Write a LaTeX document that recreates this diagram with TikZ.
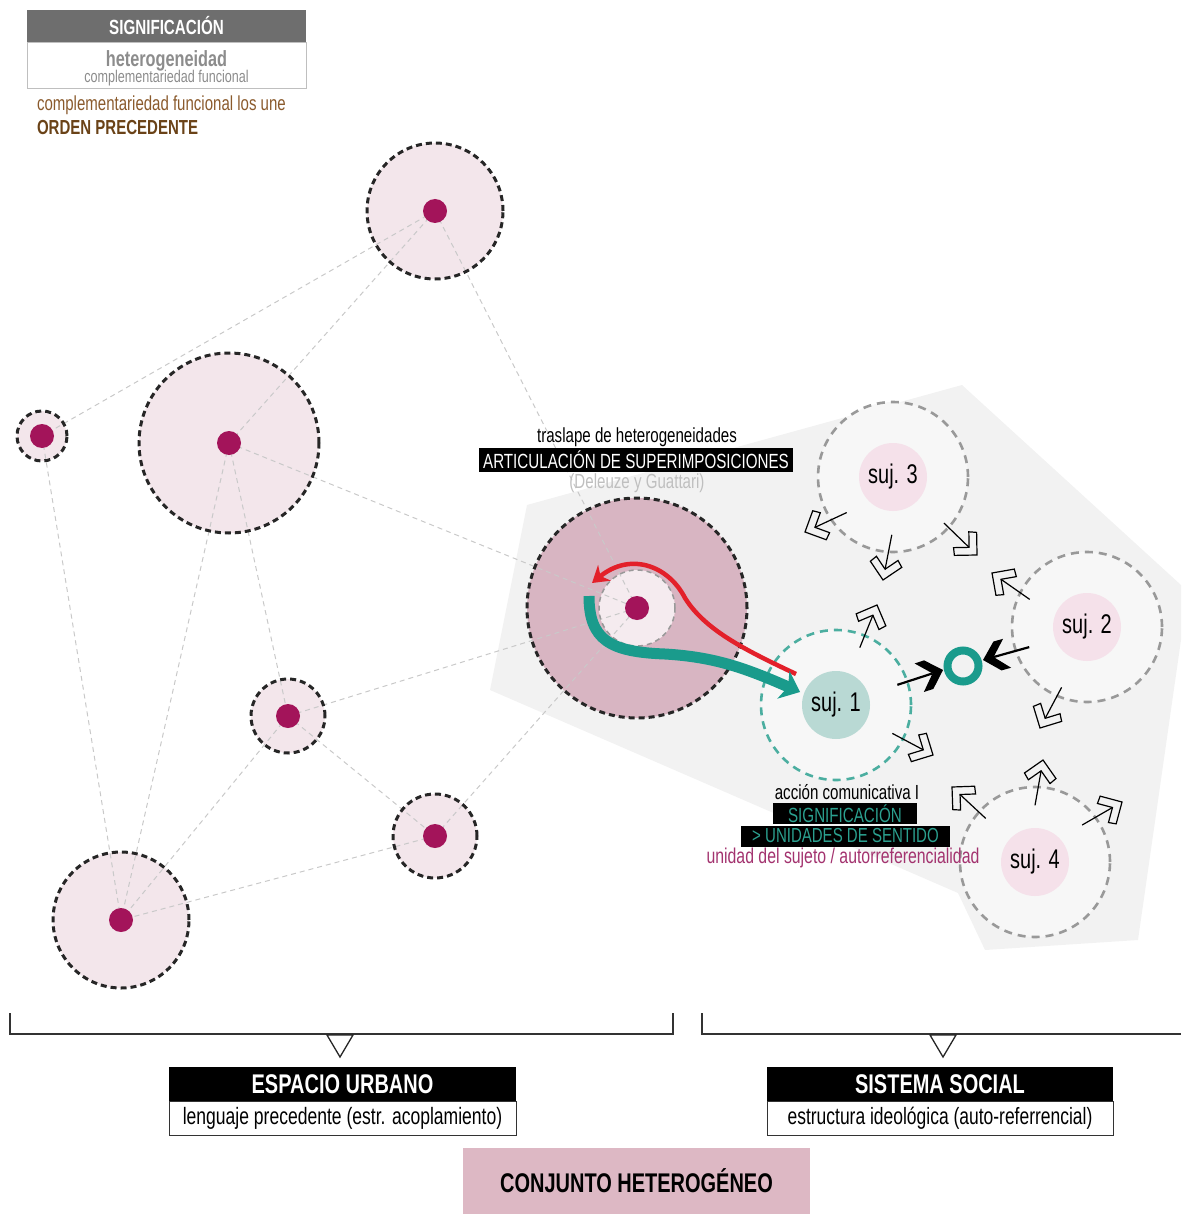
\documentclass[tikz,border=0pt]{standalone}
\usepackage{fontspec}
\setmainfont{Liberation Sans}[FakeStretch=0.74]
\usetikzlibrary{arrows.meta}
\definecolor{hdgray}{HTML}{6E6E6E}
\definecolor{lgray}{HTML}{8C8C8C}
\definecolor{brownA}{HTML}{8A5A2C}
\definecolor{brownB}{HTML}{6A4217}
\definecolor{lpink}{HTML}{F3E6EB}
\definecolor{dpink}{HTML}{D8B5C2}
\definecolor{dotc}{HTML}{A3145A}
\definecolor{edgec}{HTML}{C9C9C9}
\definecolor{polyc}{HTML}{F2F2F2}
\definecolor{tealc}{HTML}{1A9B8C}
\definecolor{tealtx}{HTML}{2BA08F}
\definecolor{teall}{HTML}{B9D9D4}
\definecolor{redc}{HTML}{E3202A}
\definecolor{sujpink}{HTML}{F5E1EA}
\definecolor{magtx}{HTML}{A3336F}
\definecolor{conj}{HTML}{DDB8C4}
\newcommand\myfs[1]{\fontsize{#1}{#1}\selectfont}
\begin{document}
\begin{tikzpicture}[x=1pt,y=-1pt,
  every node/.style={inner sep=0pt,outer sep=0pt},
  dot/.style={circle,fill=dotc,minimum width=24pt},
  ring/.style={draw=black!85,line width=3pt,dash pattern=on 6pt off 4pt},
  edge/.style={draw=edgec,line width=1pt,dash pattern=on 5pt off 4pt},
  sujring/.style={draw=black!40,line width=2.6pt,dash pattern=on 8pt off 6pt,fill=white!97!black},
  sujin/.style={circle,fill=sujpink,minimum width=68pt,font=\myfs{27}},
  lbl/.style={font=\myfs{20.4}},
  blackbox/.style={fill=black,text=white,inner xsep=4pt,inner ysep=3pt,font=\myfs{20.5}},
  chev/.pic={\draw[line width=1.2pt,line join=miter] (-46,0) -- (-11,0);
             \draw[line width=1.2pt,line join=miter] (0,0) -- (-16,16) -- (-22,11) -- (-11,0) -- (-22,-11) -- (-16,-16) -- cycle;},
  bchev/.pic={\draw[line width=2.2pt] (-48,0) -- (-11,0);
              \fill (0,0) -- (-15,15) -- (-25,15) -- (-11,0) -- (-25,-15) -- (-15,-15) -- cycle;}
]
\useasboundingbox (0,0) rectangle (1181,1214);

% ---------- header ----------
\node[fill=hdgray,text=white,minimum width=279pt,minimum height=32pt,font=\bfseries\myfs{20.5}] (hd) at (166.5,26) {SIGNIFICACIÓN};
\node[draw=black!25,line width=0.8pt,minimum width=279pt,minimum height=46pt] (hb) at (166.5,65) {};
\node[text=lgray,font=\bfseries\myfs{22}] (het) at (166.5,61) {heterogeneidad};
\node[text=lgray,font=\myfs{17}] (comp) at (166.5,78) {complementariedad funcional};
\node[anchor=west,text=brownA,font=\myfs{20.3}] (une) at (37,105) {complementariedad funcional los une};
\node[anchor=west,text=brownB,font=\bfseries\myfs{20.3}] (ord) at (37,128) {ORDEN PRECEDENTE};

% ---------- social background polygon ----------
\fill[polyc] (490,690) -- (527,505) -- (962,385) -- (1181,585) -- (1181,640) -- (1138,940) -- (985,950) -- (958,893) -- cycle;

% ---------- urban nodes: fills ----------
\coordinate (A) at (435,211);
\coordinate (B) at (42,436);
\coordinate (C) at (229,443);
\coordinate (D) at (637,608);
\coordinate (E) at (288,716);
\coordinate (F) at (435,836);
\coordinate (G) at (121,920);
\fill[lpink] (A) circle[radius=68pt];
\fill[lpink] (B) circle[radius=25pt];
\fill[lpink] (C) circle[radius=90pt];
\fill[dpink] (D) circle[radius=110pt];
\fill[lpink] (E) circle[radius=37pt];
\fill[lpink] (F) circle[radius=42pt];
\fill[lpink] (G) circle[radius=68pt];
\fill[lpink!80!white] (D) circle[radius=38pt];

% ---------- edges ----------
\foreach \p/\q in {A/B,A/C,A/D,C/D,C/G,C/E,B/G,E/G,E/D,E/F,F/G,F/D}
  \draw[edge] (\p) -- (\q);

% ---------- rings and dots ----------
\draw[ring] (A) circle[radius=68pt];
\draw[ring] (B) circle[radius=25pt];
\draw[ring] (C) circle[radius=90pt];
\draw[ring] (D) circle[radius=110pt];
\draw[ring] (E) circle[radius=37pt];
\draw[ring] (F) circle[radius=42pt];
\draw[ring] (G) circle[radius=68pt];
\draw[draw=black!40,line width=1.5pt,dash pattern=on 5pt off 4pt] (D) circle[radius=38pt];
\foreach \n in {A,B,C,D,E,F,G}
  \node[dot] (dot\n) at (\n) {};

% ---------- labels around D ----------
\node[lbl] (trasl) at (637,437) {traslape de heterogeneidades};
\node[blackbox] (artic) at (636,460) {ARTICULACIÓN DE SUPERIMPOSICIONES};
\node[lbl,text=black!25] (deleuze) at (637,483) {(Deleuze y Guattari)};

% ---------- social circles ----------
\coordinate (S3) at (893,477);
\coordinate (S2) at (1087,627);
\coordinate (S4) at (1035,862);
\coordinate (S1) at (836,705);
\draw[sujring] (S3) circle[radius=75pt];
\draw[sujring] (S2) circle[radius=75pt];
\draw[sujring] (S4) circle[radius=75pt];
\draw[sujring,draw=tealtx!85] (S1) circle[radius=75pt];
\node[sujin] (suj3) at (S3) {suj. 3};
\node[sujin] (suj2) at (S2) {suj. 2};
\node[sujin] (suj4) at (S4) {suj. 4};
\node[sujin,fill=teall] (suj1) at (S1) {suj. 1};

% ---------- red and teal arrows ----------
\coordinate (rs) at (796,674);
\coordinate (re) at (592,583);
\draw[redc,line width=4.5pt,-{Stealth[length=16pt,width=20pt,inset=5pt]}]
  (rs) .. controls (745,650) and (705,630) .. (685,598)
  .. controls (668,565) and (630,552) .. (re);
\coordinate (ts) at (589,596);
\coordinate (te) at (800,692);
\draw[tealc,line width=11pt,-{Stealth[length=18pt,width=30pt,inset=5pt]}]
  (ts) .. controls (589,640) and (610,652) .. (665,654)
  .. controls (715,657) and (745,668) .. (te);

% ---------- communication ring ----------
\node[circle,draw=tealc,line width=8pt,minimum width=31pt] (cring) at (963,666) {};
\pic[rotate=18] at (943,670) {bchev};
\pic[rotate=195.6] at (983,660) {bchev};

% ---------- hollow chevrons ----------
\pic[rotate=205] at (805,532) {chev};
\pic[rotate=259] at (883,580) {chev};
\pic[rotate=-44] at (977,555) {chev};
\pic[rotate=68] at (877,605) {chev};
\pic[rotate=145] at (992,573) {chev};
\pic[rotate=242] at (1040,728) {chev};
\pic[rotate=-28] at (933,755) {chev};
\pic[rotate=137] at (952,787) {chev};
\pic[rotate=80] at (1043,760) {chev};
\pic[rotate=30] at (1122,802) {chev};

% ---------- labels under suj 1 ----------
\node[lbl] (accion) at (847,792) {acción comunicativa I};
\node[fill=black,text=tealtx,minimum width=144pt,minimum height=21pt,font=\myfs{20.5}] (signif) at (845,813.5) {SIGNIFICACIÓN};
\node[fill=black,text=tealtx,minimum width=209pt,minimum height=21pt,font=\myfs{20.3}] (unid) at (845.5,836) {> UNIDADES DE SENTIDO};
\node[lbl,text=magtx,font=\myfs{21.4}] (unsuj) at (843,858) {unidad del sujeto / autorreferencialidad};

% ---------- brackets ----------
\coordinate (bl1) at (10,1013);
\coordinate (bl2) at (673,1013);
\coordinate (br1) at (702,1013);
\draw[black!80,line width=1.5pt] (bl1) -- ++(0,21) -| (bl2);
\draw[black!80,line width=1.5pt] (br1) -- ++(0,21) -- ++(479,0);
\draw[black!85,line width=1.3pt,fill=white] (327,1035) -- (353,1035) -- (340,1057) -- cycle;
\draw[black!85,line width=1.3pt,fill=white] (930,1035) -- (956,1035) -- (943,1057) -- cycle;

% ---------- bottom boxes ----------
\node[fill=black,text=white,minimum width=347pt,minimum height=34pt,font=\bfseries\myfs{27}] (eu) at (342.5,1084) {ESPACIO URBANO};
\node[draw=black!80,line width=1pt,minimum width=347pt,minimum height=34pt,font=\myfs{23.7}] (eus) at (342.5,1118) {lenguaje precedente (estr. acoplamiento)};
\node[fill=black,text=white,minimum width=346pt,minimum height=34pt,font=\bfseries\myfs{27}] (ss) at (940,1084) {SISTEMA SOCIAL};
\node[draw=black!80,line width=1pt,minimum width=346pt,minimum height=34pt,font=\myfs{23.6}] (sss) at (940,1118) {estructura ideológica (auto-referrencial)};
\node[fill=conj,minimum width=347pt,minimum height=66pt,font=\bfseries\myfs{27}] (cj) at (636.5,1181) {CONJUNTO HETEROGÉNEO};
\end{tikzpicture}
\end{document}
